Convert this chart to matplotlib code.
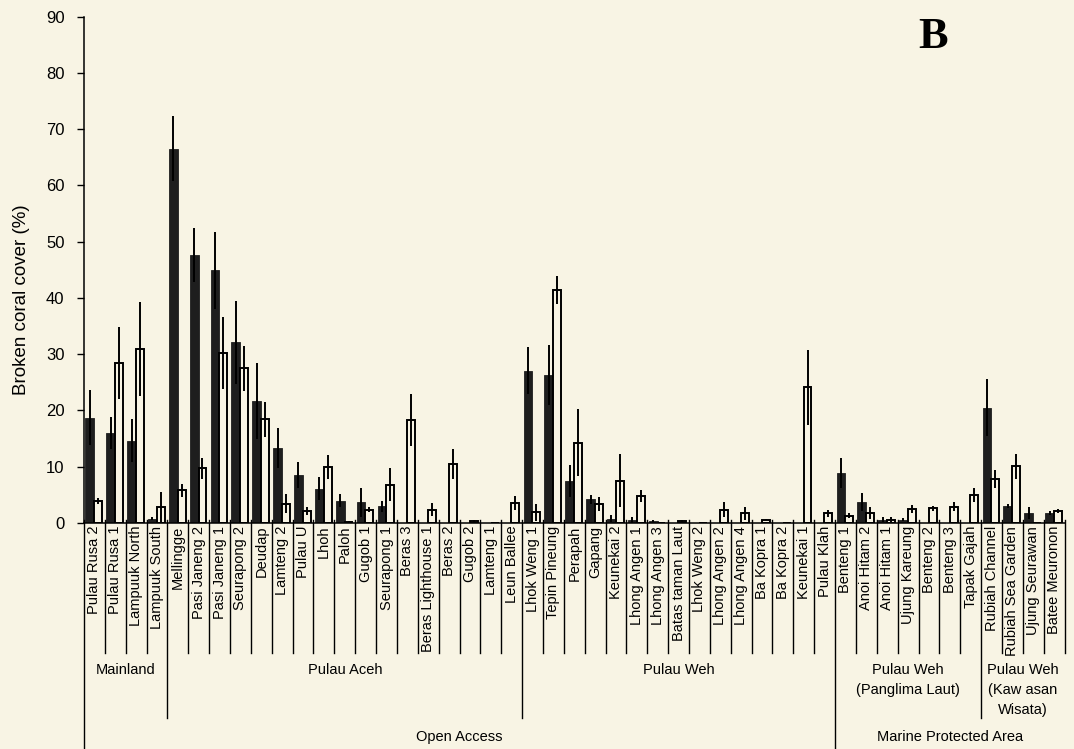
import matplotlib
matplotlib.use("Agg")
import matplotlib.pyplot as plt

plt.rcParams['font.family'] = ['Liberation Sans', 'DejaVu Sans']

# sites, left to right
sites = ['Pulau Rusa 2', 'Pulau Rusa 1', 'Lampuuk North', 'Lampuuk South',
         'Mellingge', 'Pasi Janeng 2', 'Pasi Janeng 1', 'Seurapong 2', 'Deudap',
         'Lamteng 2', 'Pulau U', 'Lhoh', 'Paloh', 'Gugob 1', 'Seurapong 1',
         'Beras 3', 'Beras Lighthouse 1', 'Beras 2', 'Gugob 2', 'Lamteng 1',
         'Leun Ballee',
         'Lhok Weng 1', 'Tepin Pineung', 'Perapah', 'Gapang', 'Keunekai 2',
         'Lhong Angen 1', 'Lhong Angen 3', 'Batas taman Laut', 'Lhok Weng 2',
         'Lhong Angen 2', 'Lhong Angen 4', 'Ba Kopra 1', 'Ba Kopra 2',
         'Keunekai 1', 'Pulau Klah',
         'Benteng 1', 'Anoi Hitam 2', 'Anoi Hitam 1', 'Ujung Kareung',
         'Benteng 2', 'Benteng 3', 'Tapak Gajah',
         'Rubiah Channel', 'Rubiah Sea Garden', 'Ujung Seurawan', 'Batee Meuronon']

# dark bars
dark_mean = [18.7, 16.0, 14.6, 0.8, 66.5, 47.6, 44.9, 32.1, 21.7, 13.3, 8.6,
             6.1, 4.0, 3.7, 3.0, 0, 0, 0, 0, 0, 0,
             27.1, 26.3, 7.5, 4.2, 0.8, 0.5, 0.4, 0, 0, 0, 0, 0, 0, 0, 0,
             8.9, 3.7, 0.6, 0.6, 0, 0, 0,
             20.5, 3.0, 1.8, 1.8]
dark_err = [4.9, 2.9, 3.8, 0.3, 5.8, 4.8, 6.9, 7.4, 6.8, 3.5, 2.3,
            2.0, 1.2, 2.6, 1.0, 0, 0, 0, 0, 0, 0,
            4.2, 5.3, 2.8, 0.8, 0.6, 0.6, 0.2, 0, 0, 0, 0, 0, 0, 0, 0,
            2.6, 1.6, 0.5, 0.3, 0, 0, 0,
            5.1, 0.3, 1.0, 0.3]

# open bars
white_mean = [3.9, 28.4, 30.9, 2.9, 5.8, 9.7, 30.2, 27.5, 18.4, 3.4, 2.2,
              10.0, 0.2, 2.4, 6.8, 18.3, 2.4, 10.5, 0.3, 0, 3.6,
              1.9, 41.4, 14.3, 3.4, 7.5, 4.8, 0, 0.3, 0, 2.4, 1.7, 0.6, 0, 24.1, 1.7,
              1.3, 1.8, 0.6, 2.5, 2.6, 2.9, 5.0,
              7.8, 10.1, 0, 2.1]
white_err = [0.6, 6.4, 8.3, 2.7, 1.2, 1.9, 6.4, 4.0, 3.1, 1.7, 0.7,
             2.1, 0.1, 0.5, 2.9, 4.6, 1.1, 2.6, 0.2, 0, 1.2,
             1.5, 2.5, 5.9, 1.2, 4.7, 1.1, 0, 0.2, 0, 1.3, 1.1, 0.1, 0, 6.6, 0.6,
             0.4, 1.1, 0.5, 0.7, 0.5, 0.8, 1.3,
             1.6, 2.2, 0, 0.35]

# area groups (label, first index, last index)
areas = [('Mainland', 0, 3), ('Pulau Aceh', 4, 20), ('Pulau Weh', 21, 35),
         ('Pulau Weh\n(Panglima Laut)', 36, 42),
         ('Pulau Weh\n(Kaw asan\nWisata)', 43, 46)]
access = [('Open Access', 0, 35), ('Marine Protected Area', 36, 46)]

bg = '#f8f4e4'
fig = plt.figure(figsize=(10.74, 7.49), dpi=100, facecolor=bg)
ax = fig.add_axes([0.0782, 0.3017, 0.913, 0.6762], facecolor=bg)

x = list(range(len(sites)))
xd = [i - 0.22 for i in x]
xw = [i + 0.18 for i in x]
ax.bar(xd, dark_mean, width=0.42, color='#1e1e1e', edgecolor='#1e1e1e', linewidth=0.6)
ax.bar(xw, white_mean, width=0.38, color=bg, edgecolor='black', linewidth=1.4)
ax.errorbar(xd, dark_mean, yerr=dark_err, fmt='none', ecolor='black', elinewidth=1.4, capsize=0)
ax.errorbar(xw, white_mean, yerr=white_err, fmt='none', ecolor='black', elinewidth=1.4, capsize=0)

ax.set_xlim(-0.5, len(sites) - 0.5)
ax.set_ylim(0, 90)
ax.set_yticks(range(0, 91, 10))
ax.tick_params(axis='y', direction='out', length=5, width=1, pad=9, labelsize=12)
ax.set_xticks(x)
ax.set_xticklabels(sites, rotation=90, fontsize=10.5)
ax.tick_params(axis='x', length=0, pad=2)
for s in ['top', 'right']:
    ax.spines[s].set_visible(False)
ax.spines['left'].set_linewidth(1.1)
ax.spines['bottom'].set_linewidth(1.1)

ax.set_ylabel('Broken coral cover (%)', fontsize=13.5)
ax.yaxis.set_label_coords(-0.055, 0.44)

tr = ax.get_xaxis_transform()
# cell boxes under the axis
for i in range(len(sites) + 1):
    b = i - 0.5
    y1 = -0.257
    if b in (3.5, 20.5, 42.5):
        y1 = -0.385
    if b in (-0.5, 35.5):
        y1 = -0.447
    ax.plot([b, b], [0.006, y1], transform=tr, color='black', lw=1.0, clip_on=False)

for name, a, b in areas:
    ax.text((a + b) / 2, -0.277, name, transform=tr, ha='center', va='top',
            fontsize=10.5, linespacing=1.55)
for name, a, b in access:
    ax.text((a + b) / 2, -0.423, name, transform=tr, ha='center', va='center',
            fontsize=10.5)

ax.text(40.2, 84.4, 'B', fontsize=32, fontweight='bold',
        family=['Liberation Serif', 'DejaVu Serif'], ha='center', va='baseline')

fig.savefig('out.png', dpi=100, facecolor=bg)
